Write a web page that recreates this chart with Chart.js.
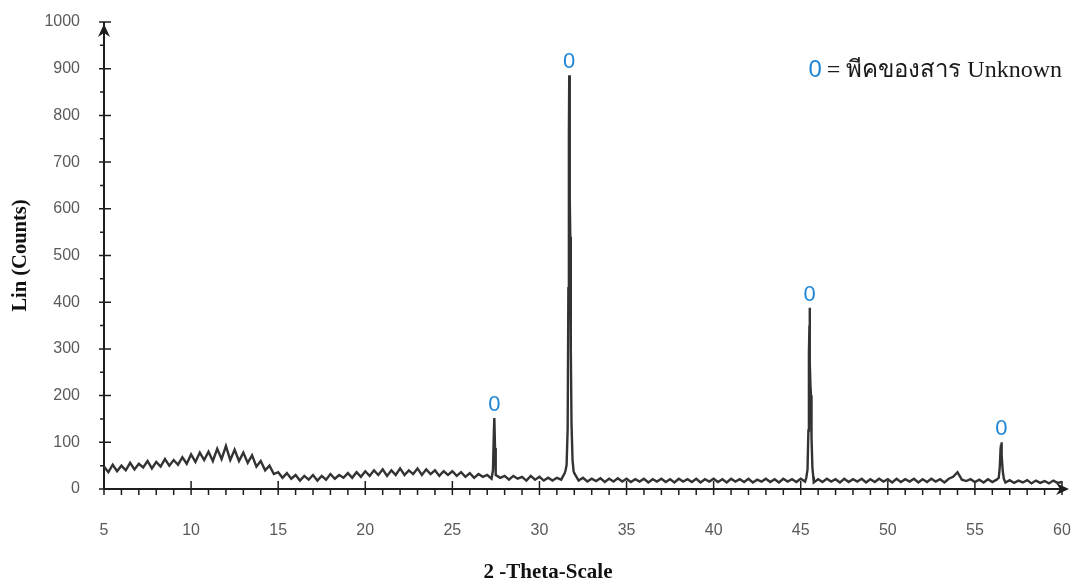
<!DOCTYPE html>
<html>
<head>
<meta charset="utf-8">
<script src="https://cdn.jsdelivr.net/npm/chart.js@4.4.1/dist/chart.umd.min.js"></script>
<style>
  html, body { margin: 0; padding: 0; background: #fff; }
  #wrap { width: 1080px; height: 585px; }
</style>
</head>
<body>
<div id="wrap"><canvas id="xrdChart" width="1080" height="585"></canvas></div>
<script>
// scan: 2-theta from 5 deg in 0.25 deg steps, counts
const scanStart = 5;
const scanStep = 0.25;
const counts = [
  48, 36, 52, 38, 50, 40, 56, 42, 54, 46, 60, 44, 58, 48, 64, 50, 62, 52, 68, 54,   // 5 - 9.75
  74, 58, 78, 62, 80, 60, 86, 64, 92, 62, 84, 60, 78, 56, 72, 48, 60, 40, 50, 32,   // 10 - 14.75
  36, 24, 34, 22, 30, 18, 28, 20, 30, 18, 28, 20, 32, 22, 30, 24, 34, 24, 36, 26,   // 15 - 19.75
  38, 28, 40, 30, 42, 28, 40, 30, 44, 30, 40, 32, 44, 30, 42, 32, 40, 28, 38, 30,   // 20 - 24.75
  38, 28, 36, 26, 34, 24, 32, 26, 30, 22, 30, 24, 28, 20, 28, 22, 26, 18, 28, 20,   // 25 - 29.75
  26, 18, 24, 18, 24, 20, 40, 620, 34, 18, 24, 16, 22, 17, 23, 15, 22, 16, 23, 16,  // 30 - 34.75
  22, 15, 21, 16, 22, 14, 21, 16, 22, 15, 21, 14, 22, 16, 21, 15, 22, 14, 21, 16,   // 35 - 39.75
  22, 15, 21, 14, 22, 16, 21, 15, 22, 14, 20, 16, 22, 15, 21, 14, 22, 16, 21, 15,   // 40 - 44.75
  22, 16, 350, 14, 21, 15, 22, 16, 21, 14, 22, 15, 21, 16, 22, 14, 21, 15, 22, 16,  // 45 - 49.75
  21, 14, 22, 15, 21, 16, 22, 14, 21, 15, 22, 16, 21, 14, 22, 26, 36, 20, 17, 21,   // 50 - 54.75
  15, 20, 14, 21, 15, 20, 95, 14, 19, 13, 18, 14, 19, 12, 18, 13, 17, 12, 18, 13,   // 55 - 59.75
  15                                                                                // 60
];

// finer samples across the sharp reflections
const peakDetailAngles = [
  27.33, 27.38, 27.41, 27.45, 27.48,
  31.45, 31.56, 31.62, 31.66, 31.69, 31.71, 31.73, 31.77, 31.79, 31.81, 31.84, 31.90, 31.96,
  45.32, 45.39, 45.44, 45.47, 45.51, 45.53, 45.56, 45.59, 45.62, 45.67, 45.72,
  56.37, 56.43, 56.47, 56.52, 56.55, 56.60, 56.66
];
const peakDetailCounts = [
  40, 118, 152, 88, 34,
  34, 52, 130, 430, 760, 886, 720, 540, 470, 300, 140, 62, 38,
  24, 42, 125, 290, 388, 270, 220, 200, 110, 46, 26,
  24, 48, 84, 100, 72, 38, 22
];

// peaks marked "0" in the figure
const markedPeakAngles = [27.41, 31.71, 45.51, 56.52];
const markedPeakCounts = [152, 886, 388, 100];

const xMin = 5, xMax = 60, xStep = 5;
const yMin = 0, yMax = 1000, yStep = 100;

const trace = counts.map((c, i) => ({ x: scanStart + i * scanStep, y: c }));
peakDetailAngles.forEach((a, i) => trace.push({ x: a, y: peakDetailCounts[i] }));
trace.sort((p, q) => p.x - q.x);

const markBlue = '#1f86d6';
const serif = '"Liberation Serif", "DejaVu Serif", serif';
const sans = '"Liberation Sans", Arial, sans-serif';

// hand-drawn style axes: arrows and inner/outer tick marks
const axesPlugin = {
  id: 'xrdAxes',
  beforeDatasetsDraw(chart) {
    const { ctx, chartArea: a, scales: { x, y } } = chart;
    ctx.save();
    ctx.strokeStyle = '#1e1e1e';
    ctx.fillStyle = '#1e1e1e';
    ctx.lineWidth = 2;
    ctx.beginPath();
    ctx.moveTo(a.left, a.bottom); ctx.lineTo(a.right + 4, a.bottom);
    ctx.moveTo(a.left, a.bottom); ctx.lineTo(a.left, a.top);
    ctx.stroke();

    ctx.lineWidth = 1.5;
    ctx.beginPath();
    for (let v = xMin; v <= xMax; v++) {
      const px = x.getPixelForValue(v);
      if (v % xStep === 0) { ctx.moveTo(px, a.bottom - 8); ctx.lineTo(px, a.bottom + 6); }
      else { ctx.moveTo(px, a.bottom); ctx.lineTo(px, a.bottom + 6); }
    }
    for (let v = yMin; v <= yMax; v += yStep / 2) {
      const py = y.getPixelForValue(v);
      if (v % yStep === 0) { ctx.moveTo(a.left - 5, py); ctx.lineTo(a.left + 7, py); }
      else { ctx.moveTo(a.left - 4, py); ctx.lineTo(a.left, py); }
    }
    ctx.stroke();

    // arrow heads
    ctx.beginPath();
    ctx.moveTo(a.left, a.top + 2);
    ctx.lineTo(a.left + 6, a.top + 15);
    ctx.lineTo(a.left, a.top + 11);
    ctx.lineTo(a.left - 6, a.top + 15);
    ctx.closePath();
    ctx.fill();
    ctx.beginPath();
    ctx.moveTo(a.right + 7, a.bottom);
    ctx.lineTo(a.right - 6, a.bottom - 6);
    ctx.lineTo(a.right - 2, a.bottom);
    ctx.lineTo(a.right - 6, a.bottom + 6);
    ctx.closePath();
    ctx.fill();

    // x axis title, sits left of the axis centre in the figure
    ctx.fillStyle = '#111';
    ctx.font = 'bold 21px ' + serif;
    ctx.textAlign = 'center';
    ctx.textBaseline = 'middle';
    ctx.fillText('2 -Theta-Scale', a.left + 444, 573);
    ctx.restore();
  }
};

const peakMarkPlugin = {
  id: 'peakMarks',
  afterDatasetsDraw(chart) {
    const { ctx, chartArea: a, scales: { x, y } } = chart;
    ctx.save();
    ctx.fillStyle = markBlue;
    ctx.font = '22px ' + sans;
    ctx.textAlign = 'center';
    ctx.textBaseline = 'alphabetic';
    markedPeakAngles.forEach((ang, i) => {
      ctx.fillText('0', x.getPixelForValue(ang), y.getPixelForValue(markedPeakCounts[i]) - 7);
    });

    // key, top right
    const rest = '= พีคของสาร Unknown';
    ctx.textAlign = 'left';
    ctx.font = '24px ' + serif;
    const wRest = ctx.measureText(rest).width;
    ctx.font = '24px ' + sans;
    const wZero = ctx.measureText('0').width + 5;
    const startX = a.right - wRest - wZero;
    ctx.fillStyle = markBlue;
    ctx.fillText('0', startX, 77);
    ctx.font = '24px ' + serif;
    ctx.fillStyle = '#1a1a1a';
    ctx.fillText(rest, startX + wZero, 77);
    ctx.restore();
  }
};

new Chart(document.getElementById('xrdChart'), {
  type: 'line',
  data: {
    datasets: [{
      data: trace,
      borderColor: '#333',
      borderWidth: 2.4,
      pointRadius: 0,
      tension: 0,
      fill: false
    }]
  },
  options: {
    responsive: false,
    animation: false,
    layout: { padding: { top: 22, right: 18, left: 0, bottom: 0 } },
    plugins: { legend: { display: false }, tooltip: { enabled: false } },
    scales: {
      x: {
        type: 'linear', min: xMin, max: xMax,
        afterFit: s => { s.height = 96; s.paddingLeft = 0; s.paddingRight = 0; },
        grid: { display: false, drawTicks: false },
        border: { display: false },
        ticks: {
          stepSize: xStep, padding: 32, color: '#5a5a5a',
          font: { family: sans, size: 16 },
          callback: v => String(v)
        }
      },
      y: {
        min: yMin, max: yMax,
        afterFit: s => { s.width = 104; s.paddingTop = 0; s.paddingBottom = 0; },
        grid: { display: false, drawTicks: false },
        border: { display: false },
        ticks: {
          stepSize: yStep, padding: 24, color: '#5a5a5a',
          font: { family: sans, size: 16 },
          callback: v => String(v)
        },
        title: {
          display: true, text: 'Lin (Counts)', color: '#111',
          font: { family: serif, size: 20.5, weight: 'bold' }, padding: { top: 8, bottom: 0 }
        }
      }
    }
  },
  plugins: [axesPlugin, peakMarkPlugin]
});
</script>
</body>
</html>
